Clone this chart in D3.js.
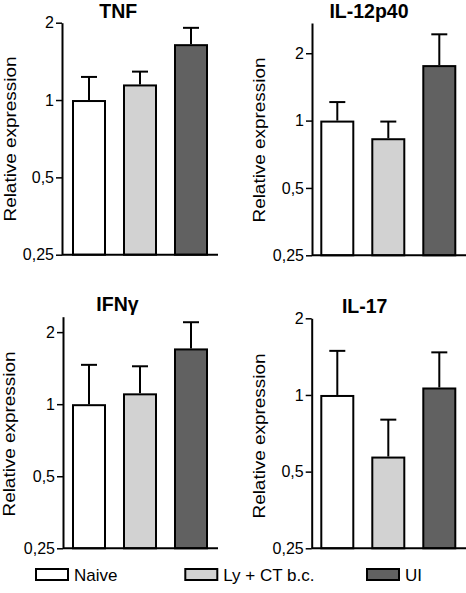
<!DOCTYPE html>
<html>
<head>
<meta charset="utf-8">
<script src="https://cdn.jsdelivr.net/npm/d3@7"></script>
<style>
  html, body { margin: 0; padding: 0; background: #fff; }
  svg { display: block; }
  text { font-family: "Liberation Sans", Arial, sans-serif; fill: #000; }
</style>
</head>
<body>
<svg id="chart" width="466" height="593"></svg>
<script>
// ---- data ----
const groups = ["Naive", "Ly + CT b.c.", "UI"];
const panelTitles = ["TNF", "IL-12p40", "IFN\u03b3", "IL-17"];
const tickValues = [0.25, 0.5, 1, 2];
const axisMax = [2, 2.73, 2.32, 2];
const tnfMean = [1, 1.15, 1.65];
const tnfUpper = [1.23, 1.29, 1.91];
const il12Mean = [1, 0.834, 1.77];
const il12Upper = [1.21, 0.99, 2.43];
const ifnMean = [1, 1.11, 1.71];
const ifnUpper = [1.46, 1.44, 2.2];
const il17Mean = [1, 0.573, 1.07];
const il17Upper = [1.49, 0.80, 1.47];
const yLabel = "Relative expression";

const means = [tnfMean, il12Mean, ifnMean, il17Mean];
const uppers = [tnfUpper, il12Upper, ifnUpper, il17Upper];

// ---- layout ----
const fills = ["#ffffff", "#d2d2d2", "#616161"];
const layout = [
  { ax: 62,    right: 218, yb: 254.7, yt: 22.7,  bandStart: 63.5,  titleX: 118.3, titleY: 17.5, labX: 15.5, labY: 139 },
  { ax: 312,   right: 466, yb: 255.3, yt: 23,    bandStart: 311.8, titleX: 369,   titleY: 18,   labX: 264.5, labY: 140 },
  { ax: 63,    right: 218, yb: 548.3, yt: 316.7, bandStart: 63.5,  titleX: 117.5, titleY: 310.5, labX: 14.5, labY: 434 },
  { ax: 311.7, right: 466, yb: 548.3, yt: 318.3, bandStart: 311.8, titleX: 364.7, titleY: 313, labX: 264.5, labY: 436 }
];

const svg = d3.select("#chart");
const fmt = d => String(d).replace(".", ",");

layout.forEach((L, i) => {
  const g = svg.append("g");
  const y = d3.scaleLog().base(2).domain([0.25, axisMax[i]]).range([L.yb, L.yt]);
  const x = d3.scaleBand().domain(groups)
    .range([L.bandStart, L.bandStart + 153])
    .paddingInner(1 / 3).paddingOuter(1 / 6);

  const rows = groups.map((gname, j) => ({ g: gname, m: means[i][j], u: uppers[i][j], fill: fills[j] }));

  // bars
  g.selectAll("rect.bar").data(rows).enter().append("rect")
    .attr("class", "bar")
    .attr("x", d => x(d.g) + 1)
    .attr("width", x.bandwidth() - 2)
    .attr("y", d => y(d.m) + 1)
    .attr("height", d => L.yb - y(d.m) - 1)
    .attr("fill", d => d.fill)
    .attr("stroke", "#000")
    .attr("stroke-width", 2);

  // error bars
  g.selectAll("line.err").data(rows).enter().append("line")
    .attr("x1", d => x(d.g) + x.bandwidth() / 2)
    .attr("x2", d => x(d.g) + x.bandwidth() / 2)
    .attr("y1", d => y(d.m))
    .attr("y2", d => y(d.u))
    .attr("stroke", "#000").attr("stroke-width", 2);
  g.selectAll("line.cap").data(rows).enter().append("line")
    .attr("x1", d => x(d.g) + x.bandwidth() / 2 - 8)
    .attr("x2", d => x(d.g) + x.bandwidth() / 2 + 8)
    .attr("y1", d => y(d.u))
    .attr("y2", d => y(d.u))
    .attr("stroke", "#000").attr("stroke-width", 2);

  // x baseline
  g.append("line")
    .attr("x1", L.ax).attr("x2", L.right)
    .attr("y1", L.yb).attr("y2", L.yb)
    .attr("stroke", "#000").attr("stroke-width", 2);

  // y axis
  const axis = d3.axisLeft(y).tickValues(tickValues).tickFormat(fmt)
    .tickSize(6).tickSizeOuter(0).tickPadding(2);
  const ag = g.append("g").attr("transform", `translate(${L.ax},0)`).call(axis);
  ag.select(".domain").attr("stroke", "#000").attr("stroke-width", 2);
  ag.selectAll(".tick line").attr("stroke", "#000").attr("stroke-width", 1.5);
  ag.selectAll(".tick text")
    .attr("font-family", '"Liberation Sans", Arial, sans-serif')
    .attr("font-size", 16).attr("fill", "#000");

  // title
  g.append("text")
    .attr("x", L.titleX).attr("y", L.titleY)
    .attr("text-anchor", "middle")
    .attr("font-size", 19.5).attr("font-weight", "bold")
    .text(panelTitles[i]);

  // y label
  g.append("text")
    .attr("transform", `translate(${L.labX},${L.labY}) rotate(-90)`)
    .attr("text-anchor", "middle")
    .attr("font-size", 16)
    .attr("textLength", 165).attr("lengthAdjust", "spacingAndGlyphs")
    .text(yLabel);
});

// legend
const legendX = [35, 184.3, 366];
const lg = svg.append("g");
groups.forEach((name, j) => {
  lg.append("rect")
    .attr("x", legendX[j] + 1).attr("y", 569)
    .attr("width", 32).attr("height", 11)
    .attr("fill", fills[j]).attr("stroke", "#000").attr("stroke-width", 2);
  lg.append("text")
    .attr("x", legendX[j] + 39).attr("y", 580.5)
    .attr("font-size", 17)
    .text(name);
});
</script>
</body>
</html>
